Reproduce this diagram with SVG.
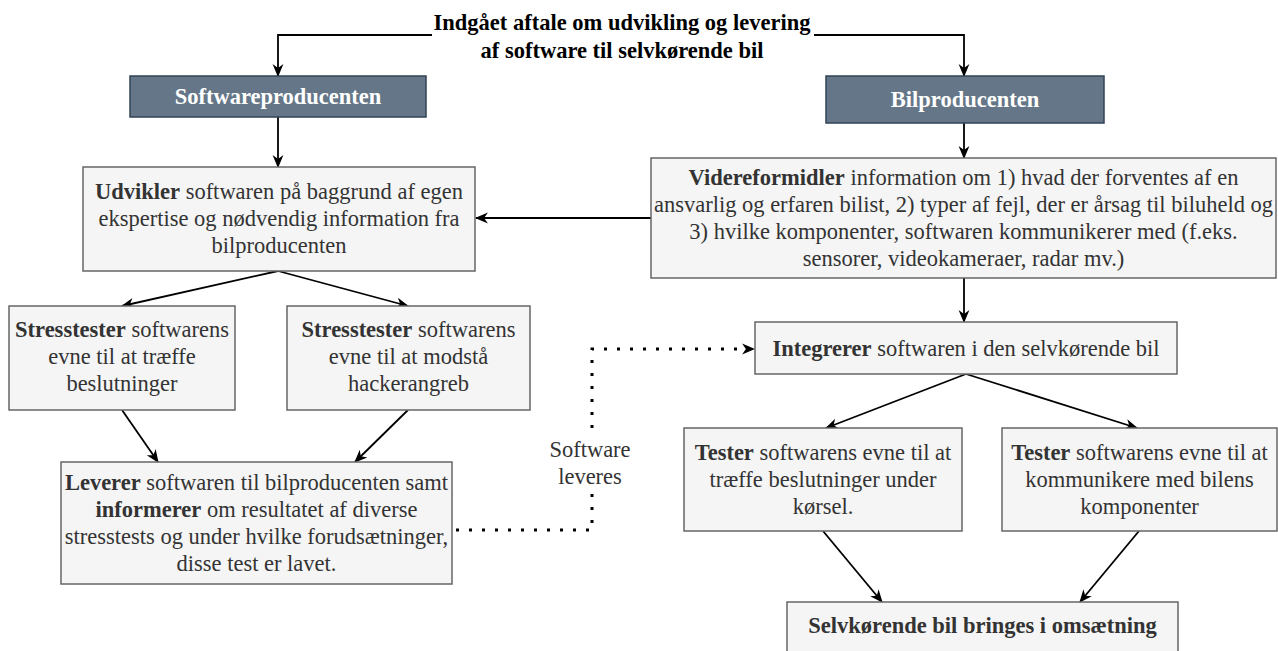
<svg xmlns="http://www.w3.org/2000/svg" width="1278" height="651" viewBox="0 0 1278 651">
<defs>
<style>
.t{font-family:"Liberation Serif","Times New Roman",serif;font-size:22.5px;fill:#333333;text-anchor:middle}
.b{font-weight:bold}
.hdr{fill:#647687;stroke:#314354;stroke-width:1.5}
.hdrt{font-family:"Liberation Serif","Times New Roman",serif;font-size:22.5px;font-weight:bold;fill:#ffffff;text-anchor:middle}
.box{fill:#f5f5f5;stroke:#666666;stroke-width:1.5}
.title{font-family:"Liberation Serif","Times New Roman",serif;font-size:22.5px;font-weight:bold;fill:#000000;text-anchor:middle}
.ln{fill:none;stroke:#000000;stroke-width:1.8;marker-end:url(#arr)}
.dot{fill:none;stroke:#000000;stroke-width:3;stroke-dasharray:3 10;marker-end:url(#arr)}
.dotn{fill:none;stroke:#000000;stroke-width:3;stroke-dasharray:3 10}
</style>
<marker id="arr" viewBox="0 0 12 12" refX="11" refY="6" markerWidth="13" markerHeight="13" orient="auto" markerUnits="userSpaceOnUse">
<path d="M0,1 L12,6 L0,11 L3.5,6 z" fill="#000000"/>
</marker>
</defs>
<rect width="1278" height="651" fill="#ffffff"/>

<g id="connectors">
<polyline class="ln" points="432,35 278,35 278,76"/>
<polyline class="ln" points="814,35 964,35 964,76"/>
<line class="ln" x1="278" y1="117" x2="278" y2="167"/>
<line class="ln" x1="964" y1="123" x2="964" y2="158"/>
<line class="ln" x1="651" y1="218" x2="476" y2="218"/>
<line class="ln" x1="278" y1="271" x2="122" y2="306"/>
<line class="ln" x1="278" y1="271" x2="408" y2="306"/>
<line class="ln" x1="122" y1="410" x2="158" y2="462"/>
<line class="ln" x1="408" y1="410" x2="355" y2="462"/>
<line class="ln" x1="964" y1="278" x2="964" y2="322"/>
<line class="ln" x1="966" y1="374" x2="826" y2="428"/>
<line class="ln" x1="966" y1="374" x2="1137" y2="428"/>
<line class="ln" x1="823" y1="531" x2="882" y2="602"/>
<line class="ln" x1="1139" y1="531" x2="1080" y2="602"/>
<polyline class="dotn" points="456,530 592,530 592,493"/>
<polyline class="dot" points="592,428 592,349 754,349"/>
<text class="t" x="590" y="457">Software</text>
<text class="t" x="590" y="484">leveres</text>
</g>

<g id="title">
<text class="title" x="622" y="30">Indgået aftale om udvikling og levering</text>
<text class="title" x="622" y="58">af software til selvkørende bil</text>
</g>

<g id="softwareproducenten">
<rect class="hdr" x="130" y="76" width="296" height="41"/>
<text class="hdrt" x="278" y="104">Softwareproducenten</text>
</g>

<g id="bilproducenten">
<rect class="hdr" x="826" y="76" width="278" height="47"/>
<text class="hdrt" x="965" y="107">Bilproducenten</text>
</g>

<g id="udvikler">
<rect class="box" x="83" y="167" width="392" height="104"/>
<text class="t" x="279" y="199"><tspan class="b">Udvikler</tspan> softwaren på baggrund af egen</text>
<text class="t" x="279" y="226">ekspertise og nødvendig information fra</text>
<text class="t" x="279" y="253">bilproducenten</text>
</g>

<g id="videreformidler">
<rect class="box" x="651" y="158" width="625" height="120"/>
<text class="t" x="963.5" y="185"><tspan class="b">Videreformidler</tspan> information om 1) hvad der forventes af en</text>
<text class="t" x="963.5" y="212">ansvarlig og erfaren bilist, 2) typer af fejl, der er årsag til biluheld og</text>
<text class="t" x="963.5" y="239">3) hvilke komponenter, softwaren kommunikerer med (f.eks.</text>
<text class="t" x="963.5" y="266">sensorer, videokameraer, radar mv.)</text>
</g>

<g id="stresstester1">
<rect class="box" x="9" y="306" width="226" height="104"/>
<text class="t" x="122" y="337"><tspan class="b">Stresstester</tspan> softwarens</text>
<text class="t" x="122" y="364">evne til at træffe</text>
<text class="t" x="122" y="391">beslutninger</text>
</g>

<g id="stresstester2">
<rect class="box" x="287" y="306" width="243" height="104"/>
<text class="t" x="408.5" y="337"><tspan class="b">Stresstester</tspan> softwarens</text>
<text class="t" x="408.5" y="364">evne til at modstå</text>
<text class="t" x="408.5" y="391">hackerangreb</text>
</g>

<g id="leverer">
<rect class="box" x="61" y="462" width="391" height="122"/>
<text class="t" x="256.5" y="490"><tspan class="b">Leverer</tspan> softwaren til bilproducenten samt</text>
<text class="t" x="256.5" y="517"><tspan class="b">informerer</tspan> om resultatet af diverse</text>
<text class="t" x="256.5" y="544">stresstests og under hvilke forudsætninger,</text>
<text class="t" x="256.5" y="571">disse test er lavet.</text>
</g>

<g id="integrerer">
<rect class="box" x="755" y="322" width="422" height="52"/>
<text class="t" x="966" y="356"><tspan class="b">Integrerer</tspan> softwaren i den selvkørende bil</text>
</g>

<g id="tester1">
<rect class="box" x="684" y="428" width="278" height="103"/>
<text class="t" x="823" y="460"><tspan class="b">Tester</tspan> softwarens evne til at</text>
<text class="t" x="823" y="487">træffe beslutninger under</text>
<text class="t" x="823" y="514">kørsel.</text>
</g>

<g id="tester2">
<rect class="box" x="1002" y="428" width="275" height="103"/>
<text class="t" x="1139.5" y="460"><tspan class="b">Tester</tspan> softwarens evne til at</text>
<text class="t" x="1139.5" y="487">kommunikere med bilens</text>
<text class="t" x="1139.5" y="514">komponenter</text>
</g>

<g id="selvkoerende">
<rect class="box" x="787" y="602" width="391" height="58"/>
<text class="t b" x="982.5" y="633">Selvkørende bil bringes i omsætning</text>
</g>
</svg>
